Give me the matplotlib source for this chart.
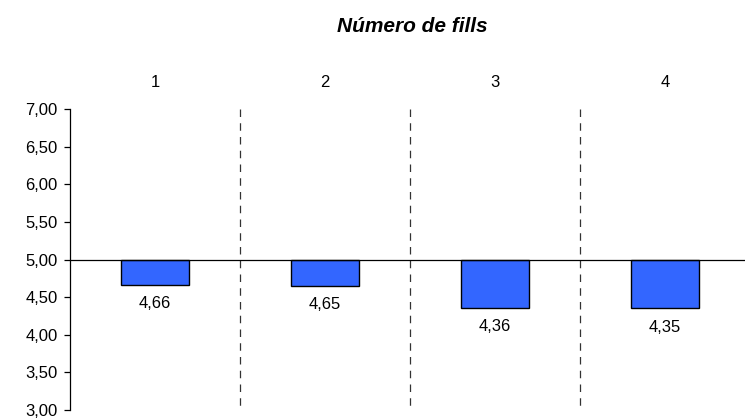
import matplotlib.pyplot as plt
from matplotlib.ticker import FuncFormatter

categories = ['1', '2', '3', '4']
values = [4.66, 4.65, 4.36, 4.35]
baseline = 5.0
title = 'Número de fills'

plt.rcParams['font.family'] = ['Liberation Sans', 'DejaVu Sans']

fig = plt.figure(figsize=(7.45, 4.2), dpi=100)
ax = fig.add_axes([70 / 745, 10 / 420, 680 / 745, 301 / 420])

x = list(range(1, len(categories) + 1))
heights = [v - baseline for v in values]
ax.bar(x, heights, bottom=baseline, width=0.405, color='#3366FF',
       edgecolor='black', linewidth=1, zorder=3)

for xi, v in zip(x, values):
    ax.annotate(f'{v:.2f}'.replace('.', ','), (xi, v), xytext=(0, -8),
                textcoords='offset points', ha='center', va='top', fontsize=12)

ax.axhline(baseline, color='black', linewidth=0.9, zorder=4)
for xs in [1.5, 2.5, 3.5]:
    ax.plot([xs, xs], [7.0, 3.0], color='#333333', linewidth=0.9,
            linestyle=(0, (6, 5)), zorder=1)

ax.set_xlim(0.5, 4.5)
ax.set_ylim(3.0, 7.0)
ax.set_yticks([3.0 + 0.5 * i for i in range(9)])
ax.yaxis.set_major_formatter(FuncFormatter(lambda v, p: f'{v:.2f}'.replace('.', ',')))
ax.tick_params(axis='y', direction='out', length=4, width=0.9, labelsize=12, pad=5)

ax.xaxis.tick_top()
ax.set_xticks(x)
ax.set_xticklabels(categories)
ax.tick_params(axis='x', length=0, labelsize=12, pad=14)

for s in ['top', 'right', 'bottom']:
    ax.spines[s].set_visible(False)
ax.spines['left'].set_linewidth(0.9)

fig.text(412 / 745, 1 - 27 / 420, title, ha='center', va='center',
         fontsize=15, fontweight='bold', fontstyle='italic')

fig.savefig('out.png', dpi=100)
